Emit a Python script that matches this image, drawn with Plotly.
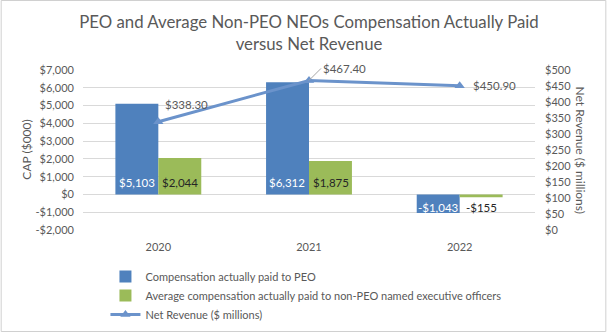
import plotly.graph_objects as go

years = ["2020", "2021", "2022"]
peo_cap = [5103, 6312, -1043]
neo_cap = [2044, 1875, -155]
net_revenue = [338.30, 467.40, 450.90]
peo_labels = ["$5,103", "$6,312", "-$1,043"]
neo_labels = ["$2,044", "$1,875", "-$155"]
rev_labels = ["$338.30", "$467.40", "$450.90"]
left_ticks = [-2000, -1000, 0, 1000, 2000, 3000, 4000, 5000, 6000, 7000]
left_tick_text = ["-$2,000", "-$1,000", "$0", "$1,000", "$2,000", "$3,000",
                  "$4,000", "$5,000", "$6,000", "$7,000"]
right_ticks = [0, 50, 100, 150, 200, 250, 300, 350, 400, 450, 500]
right_tick_text = ["$" + str(v) for v in right_ticks]

GRAY = "#595959"
FONT = "Lato"
BLUE = "#4f81bd"
GREEN = "#9bbb59"
LINE = "#6b93cb"
FS = 11

fig = go.Figure()
fig.add_trace(go.Bar(x=years, y=peo_cap, name="Compensation actually paid to PEO",
                     marker=dict(color=BLUE, line=dict(width=0)), offsetgroup="a",
                     legendgroup="g1"))
fig.add_trace(go.Bar(x=years, y=neo_cap,
                     name="Average compensation actually paid to non-PEO named executive officers",
                     marker=dict(color=GREEN, line=dict(width=0)), offsetgroup="b",
                     legendgroup="g2"))
fig.add_trace(go.Scatter(x=years, y=net_revenue, name="Net Revenue ($ millions)", yaxis="y2",
                         mode="lines+markers", legendgroup="g3",
                         line=dict(color=LINE, width=3),
                         marker=dict(symbol="triangle-up", size=9, color=LINE)))

ann = []
for i, y in enumerate(years):
    for vals, labs, off, col in ((peo_cap, peo_labels, -0.143, "white"),
                                 (neo_cap, neo_labels, 0.143, "#262626")):
        v = vals[i]
        ann.append(dict(x=i + off, y=0, xref="x", yref="y", text=labs[i], showarrow=False,
                        yshift=12 if v >= 0 else -13,
                        font=dict(family=FONT, size=FS + 0.5, color=col)))

# line labels
ann.append(dict(x=0, y=net_revenue[0], xref="x", yref="y2", text=rev_labels[0], showarrow=False,
                xanchor="left", xshift=5, yshift=17, font=dict(family=FONT, size=FS + 0.5, color=GRAY)))
ann.append(dict(x=1, y=net_revenue[1], xref="x", yref="y2", text=rev_labels[1], showarrow=True,
                arrowhead=0, arrowwidth=1, arrowcolor="#a6a6a6", ax=12, ay=-12,
                xanchor="left", yanchor="middle",
                font=dict(family=FONT, size=FS + 0.5, color=GRAY)))
ann.append(dict(x=2, y=net_revenue[2], xref="x", yref="y2", text=rev_labels[2], showarrow=False,
                xanchor="left", xshift=11, font=dict(family=FONT, size=FS + 0.5, color=GRAY)))

L, R, T, B = 82.5, 71.5, 70, 102
W, H = 607, 332
pw, ph = W - L - R, H - T - B

# axis titles (pixel centres converted to paper coords)
ann.append(dict(x=(25 - L) / pw, y=(H - B - 150) / ph, xref="paper", yref="paper",
                xanchor="center", yanchor="middle",
                text="CAP ($000)", showarrow=False,
                textangle=-90, font=dict(family=FONT, size=12, color=GRAY)))
ann.append(dict(x=(582 - L) / pw, y=(H - B - 150) / ph, xref="paper", yref="paper",
                xanchor="center", yanchor="middle",
                text="Net Revenue ($ millions)", showarrow=False,
                textangle=90, font=dict(family=FONT, size=12, color=GRAY)))

fig.update_layout(
    width=W, height=H,
    margin=dict(l=L, r=R, t=T, b=B, autoexpand=False),
    paper_bgcolor="white", plot_bgcolor="white",
    font=dict(family=FONT, size=FS, color=GRAY),
    title=dict(text="PEO and Average Non-PEO NEOs Compensation Actually Paid<br>versus Net Revenue",
               x=0.5, xref="paper", xanchor="center", y=1 - 28 / H, yanchor="middle",
               font=dict(family=FONT, size=16.8, color=GRAY)),
    barmode="group", bargap=0.43, bargroupgap=0,
    xaxis=dict(showgrid=False, showline=False, ticks="", ticklabelstandoff=9,
               tickfont=dict(size=FS, color=GRAY)),
    yaxis=dict(range=[-2000, 7000], tickvals=left_ticks, ticktext=left_tick_text,
               showgrid=True, gridcolor="#d9d9d9", gridwidth=1, zeroline=False,
               showline=False, ticks="", ticklabelstandoff=8,
               tickfont=dict(size=FS, color=GRAY)),
    yaxis2=dict(range=[0, 500], tickvals=right_ticks, ticktext=right_tick_text,
                overlaying="y", side="right", showgrid=False, zeroline=False,
                showline=False, ticks="", ticklabelstandoff=9,
                tickfont=dict(size=FS, color=GRAY)),
    legend=dict(orientation="v", x=(105 - L) / pw, xanchor="left",
                y=(H - B - 262) / ph, yanchor="top",
                font=dict(family=FONT, size=FS, color=GRAY), tracegroupgap=4,
                itemwidth=30, traceorder="normal"),
    annotations=ann,
    shapes=[dict(type="rect", xref="paper", yref="paper",
                 x0=(0.5 - L) / pw, x1=(W - 0.5 - L) / pw,
                 y0=(0.5 - B) / ph, y1=(H - 0.5 - B) / ph,
                 line=dict(color="#d0d0d0", width=1), layer="below")],
)

fig.write_html("out.html")
